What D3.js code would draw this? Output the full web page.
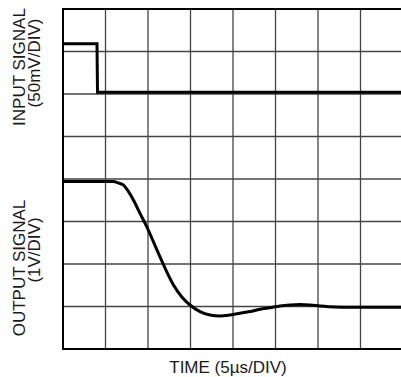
<!DOCTYPE html>
<html>
<head>
<meta charset="utf-8">
<script src="https://cdn.jsdelivr.net/npm/d3@7"></script>
<style>
  html, body { margin: 0; padding: 0; background: #fff; }
  svg { display: block; }
  text { font-family: "Liberation Sans", Arial, sans-serif; fill: #1a1a1a; }
</style>
</head>
<body>
<svg id="scope" width="401" height="377"></svg>
<script>
// Scope screen: 8 x 8 divisions, 5 µs per horizontal division
const divisions = 8;
const usPerDiv = 5;

// Input step (mV, 50 mV/div, 0 mV on the sixth division line)
const inputTime = [0, 4.0, 4.06, 40];
const inputMv = [59, 59, 2, 2];

// Output response (V, 1 V/div, 0 V on the first division line)
const outputTime = [0, 4.35, 5.92, 6.47, 7.09, 7.65, 8.27, 9.06, 9.85, 10.62, 11.41, 12.2,
  12.98, 13.96, 14.94, 16.12, 17.29, 18.47, 19.65, 20.82, 22.0, 23.18, 24.35, 25.53,
  26.71, 27.88, 29.06, 30.24, 32.0, 33.76, 40];
const outputV = [2.94, 2.94, 2.94, 2.91, 2.86, 2.72, 2.51, 2.19, 1.88, 1.53, 1.17, 0.82,
  0.51, 0.23, 0.035, -0.12, -0.2, -0.224, -0.2, -0.16, -0.118, -0.066, -0.028, 0.012,
  0.035, 0.047, 0.035, 0.012, -0.012, -0.019, -0.019];

const svg = d3.select("#scope");
const screenLeft = 63, screenTop = 9, divW = 42.5, divH = 42.5;
const screenRight = screenLeft + divisions * divW, screenBottom = screenTop + divisions * divH;

const x = d3.scaleLinear().domain([0, divisions * usPerDiv]).range([screenLeft, screenRight]);
const yDiv = d3.scaleLinear().domain([0, divisions]).range([screenBottom, screenTop]);
const yIn = d3.scaleLinear().domain([-6 * 50, 2 * 50]).range([screenBottom, screenTop]);
const yOut = d3.scaleLinear().domain([-1, 7]).range([screenBottom, screenTop]);

// Graticule
const grid = svg.append("g").attr("stroke", "#444").attr("stroke-width", 1.3);
grid.selectAll("line.v").data(d3.range(1, divisions + 1)).join("line")
  .attr("class", "v")
  .attr("x1", d => x(d * usPerDiv)).attr("x2", d => x(d * usPerDiv))
  .attr("y1", screenTop).attr("y2", screenBottom);
grid.selectAll("line.h").data(d3.range(1, divisions)).join("line")
  .attr("class", "h")
  .attr("x1", screenLeft).attr("x2", screenRight)
  .attr("y1", d => yDiv(d)).attr("y2", d => yDiv(d));

// Screen frame
const frame = svg.append("g").attr("stroke", "#000").attr("stroke-width", 2);
frame.append("line").attr("x1", screenLeft).attr("x2", screenRight).attr("y1", screenTop).attr("y2", screenTop);
frame.append("line").attr("x1", screenLeft).attr("x2", screenRight).attr("y1", screenBottom).attr("y2", screenBottom);
frame.append("line").attr("x1", screenLeft).attr("x2", screenLeft).attr("y1", screenTop - 1).attr("y2", screenBottom + 1);

// Traces
const inLine = d3.line().x(d => x(d[0])).y(d => yIn(d[1]));
svg.append("path")
  .datum(d3.zip(inputTime, inputMv))
  .attr("d", inLine)
  .attr("fill", "none").attr("stroke", "#000").attr("stroke-width", 3)
  .attr("stroke-linejoin", "miter");

const outLine = d3.line().x(d => x(d[0])).y(d => yOut(d[1])).curve(d3.curveMonotoneX);
svg.append("path")
  .datum(d3.zip(outputTime, outputV))
  .attr("d", outLine)
  .attr("fill", "none").attr("stroke", "#000").attr("stroke-width", 3)
  .attr("stroke-linejoin", "round");

// Labels
function vLabel(text, xb, yc) {
  svg.append("text")
    .attr("transform", `translate(${xb},${yc}) rotate(-90)`)
    .attr("text-anchor", "middle")
    .attr("font-size", 17)
    .text(text);
}
vLabel("INPUT SIGNAL", 25, 67);
vLabel("(50mV/DIV)", 40, 63);
vLabel("OUTPUT SIGNAL", 25, 268);
vLabel("(1V/DIV)", 40, 250);

svg.append("text")
  .attr("x", 228).attr("y", 373)
  .attr("text-anchor", "middle")
  .attr("font-size", 17)
  .text("TIME (5\u00b5s/DIV)");
</script>
</body>
</html>
